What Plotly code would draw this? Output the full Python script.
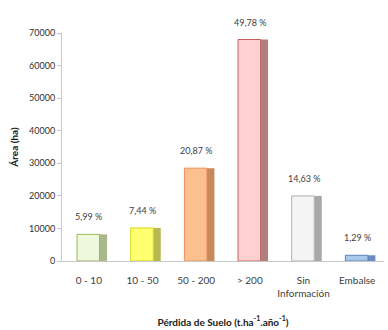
import plotly.graph_objects as go

categories = ["0 - 10", "10 - 50", "50 - 200", "> 200", "Sin<br>Información", "Embalse"]
area_ha = [8180, 10160, 28500, 68000, 19990, 1760]
pct_labels = ["5,99 %", "7,44 %", "20,87 %", "49,78 %", "14,63 %", "1,29 %"]
y_ticks = [0, 10000, 20000, 30000, 40000, 50000, 60000, 70000]

fill_colors = ["#eef8dc", "#ffff70", "#fcc090", "#ffd0d0", "#f4f4f4", "#a8c8ec"]
edge_colors = ["#98b954", "#d8d820", "#e8905a", "#c86060", "#b0b0b0", "#5a84c0"]
side_colors = ["#a9b98a", "#b8b850", "#c8885a", "#b08080", "#a8a8a8", "#6a8cc0"]

fig = go.Figure()
# side faces (faux 3D depth)
fig.add_trace(go.Bar(
    x=categories, y=area_ha, width=0.14, offset=0.2,
    marker=dict(color=side_colors, line=dict(width=0)),
    hoverinfo="skip", showlegend=False,
))
fig.add_trace(go.Bar(
    x=categories, y=area_ha, width=0.42, offset=-0.22,
    marker=dict(color=fill_colors, line=dict(color=edge_colors, width=1)),
    showlegend=False,
))

for cat, val, lab in zip(categories, area_ha, pct_labels):
    fig.add_annotation(
        x=cat, y=val, text=lab, showarrow=False, yanchor="bottom", yshift=10,
        font=dict(size=9, color="#404040", family="Lato"),
    )

fig.update_layout(
    width=388, height=330,
    margin=dict(l=62, r=4, t=33, b=67),
    paper_bgcolor="white", plot_bgcolor="white",
    font=dict(family="Lato", size=10, color="#404040"),
    bargap=0.3,
    xaxis=dict(
        showline=True, linecolor="#c8c8c8", linewidth=1,
        tickfont=dict(size=10, color="#404040"),
        ticklabelstandoff=10,
        title=dict(text="<b>Pérdida de Suelo (t.ha<sup>-1</sup>.año<sup>-1</sup>)</b>",
                   font=dict(size=10, color="#202020"), standoff=20),
        ticks="",
    ),
    yaxis=dict(
        range=[0, 70000], tickvals=y_ticks, tickformat="d",
        showline=True, linecolor="#c8c8c8", linewidth=1,
        showgrid=False, zeroline=False,
        ticks="outside", ticklen=4, tickcolor="#c8c8c8",
        tickfont=dict(size=9, color="#303030"),
        title=dict(text="<b>Área (ha)</b>", font=dict(size=10, color="#202020"), standoff=8),
    ),
)

fig.write_html("out.html")
